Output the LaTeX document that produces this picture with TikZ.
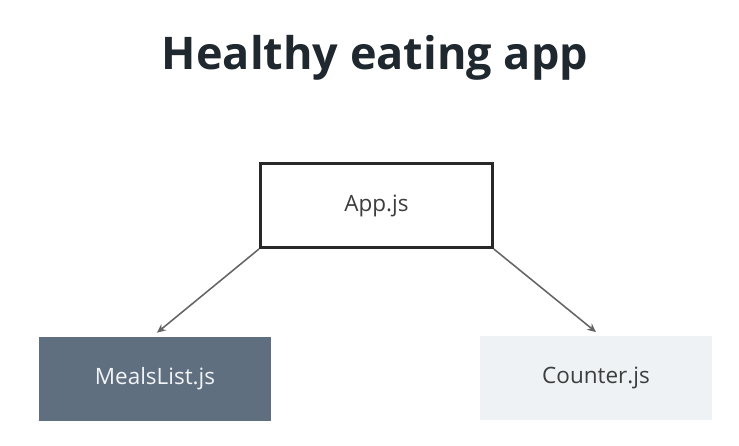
\documentclass[tikz,border=0pt]{standalone}
\usepackage{fontspec}
\setmainfont{Open Sans}
\usetikzlibrary{arrows.meta,positioning}
\definecolor{titledark}{RGB}{31,40,46}
\definecolor{boxdark}{RGB}{40,40,40}
\definecolor{slatefill}{RGB}{95,111,128}
\definecolor{palefill}{RGB}{238,242,245}
\definecolor{linkgray}{RGB}{100,100,100}

\begin{document}
\begin{tikzpicture}[
  title/.style={font=\fontsize{32}{38}\selectfont\bfseries,text=titledark},
  parent/.style={rectangle,draw=boxdark,line width=2pt,fill=white,minimum width=5.8cm,minimum height=2.1cm,font=\fontsize{16}{19}\selectfont,text=boxdark!90},
  childdark/.style={rectangle,fill=slatefill,minimum width=5.8cm,minimum height=2.1cm,font=\fontsize{16}{19}\selectfont,text=white!92!slatefill},
  childlight/.style={rectangle,fill=palefill,minimum width=5.8cm,minimum height=2.1cm,font=\fontsize{16}{19}\selectfont,text=boxdark!90},
  arrow/.style={-{Stealth[length=2.2mm,width=2mm]},line width=1.1pt,draw=linkgray}]
  \useasboundingbox (0,0) rectangle (18.475,11.15);
  \node[title,anchor=base] (head) at (9.375,9.4) {Healthy eating app};
  \node[parent] (app) at (9.41,6.01) {App.js};
  \node[childdark] (meals) at (3.875,1.675) {MealsList.js};
  \node[childlight] (counter) at (14.9,1.69) {Counter.js};
  \draw[arrow] (app.south west) -- ([xshift=0.5mm,yshift=1mm]meals.north);
  \draw[arrow] (app.south east) -- ([yshift=1mm]counter.north);
\end{tikzpicture}
\end{document}
